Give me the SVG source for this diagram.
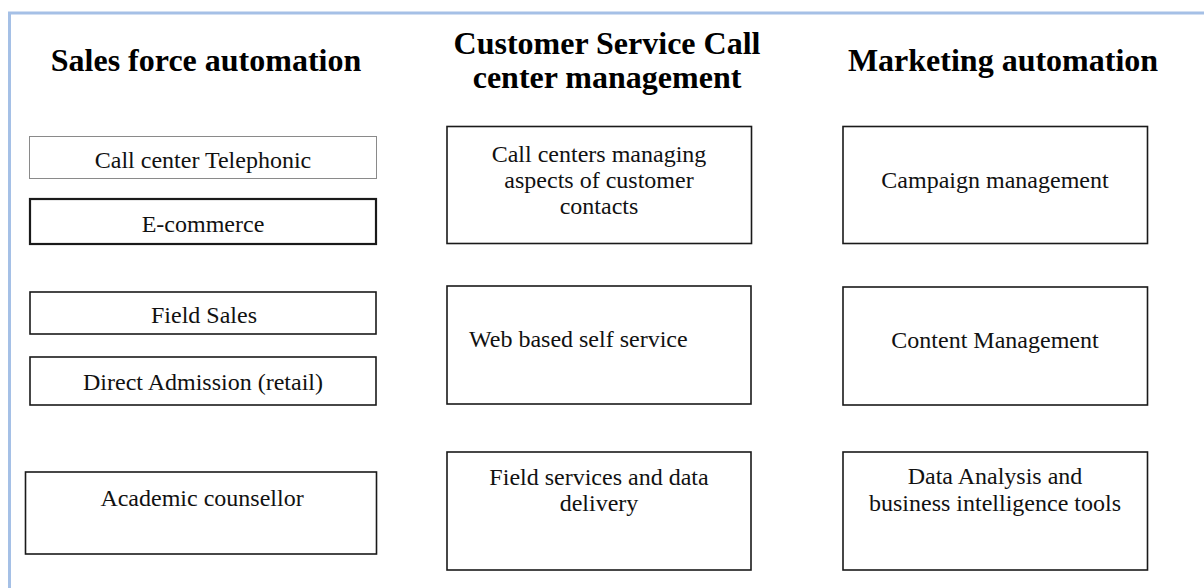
<svg xmlns="http://www.w3.org/2000/svg" width="1204" height="588" viewBox="0 0 1204 588">
<style>
.bg{fill:#ffffff}
.frame{fill:none;stroke:#a5c0e6;stroke-width:3}
.box{fill:#ffffff;stroke:#1a1a1a;stroke-width:1.6}
.thin{fill:#ffffff;stroke:#8a8a8a;stroke-width:1}
.thick{fill:#ffffff;stroke:#1a1a1a;stroke-width:2.2}
.h{font-family:"Liberation Serif","Times New Roman",serif;font-weight:bold;font-size:32px;fill:#000;text-anchor:middle}
.t{font-family:"Liberation Serif","Times New Roman",serif;font-size:24px;fill:#111;text-anchor:middle}
</style>
<rect class="bg" x="0" y="0" width="1204" height="588"/>
<path class="frame" d="M9.5 588 V13 H1204"/>
<g id="headings">
<text class="h" x="206" y="71">Sales force automation</text>
<text class="h" x="607" y="54">Customer Service Call</text>
<text class="h" x="607" y="88">center management</text>
<text class="h" x="1003" y="71">Marketing automation</text>
</g>
<g id="connectors"></g>
<g id="n-call-center-telephonic">
<rect class="thin" x="29.5" y="136.5" width="347" height="42"/>
<text class="t" x="203" y="168">Call center Telephonic</text>
</g>
<g id="n-ecommerce">
<rect class="thick" x="30" y="199" width="346" height="45"/>
<text class="t" x="203" y="232">E-commerce</text>
</g>
<g id="n-field-sales">
<rect class="box" x="30" y="292" width="346" height="42"/>
<text class="t" x="204" y="323">Field Sales</text>
</g>
<g id="n-direct-admission">
<rect class="box" x="30" y="357" width="346" height="48"/>
<text class="t" x="203" y="390">Direct Admission (retail)</text>
</g>
<g id="n-academic-counsellor">
<rect class="box" x="25.5" y="472" width="351" height="82"/>
<text class="t" x="202" y="506">Academic counsellor</text>
</g>
<g id="n-call-centers-managing">
<rect class="box" x="447" y="126.5" width="304.5" height="117"/>
<text class="t" x="599" y="162">Call centers managing</text>
<text class="t" x="599" y="188">aspects of customer</text>
<text class="t" x="599" y="214">contacts</text>
</g>
<g id="n-web-self-service">
<rect class="box" x="447" y="286" width="304" height="118"/>
<text class="t" x="469" y="347" style="text-anchor:start">Web based self service</text>
</g>
<g id="n-field-services">
<rect class="box" x="447" y="452" width="304" height="118"/>
<text class="t" x="599" y="485">Field services and data</text>
<text class="t" x="599" y="511">delivery</text>
</g>
<g id="n-campaign-management">
<rect class="box" x="843" y="126.5" width="304.5" height="117"/>
<text class="t" x="995" y="188">Campaign management</text>
</g>
<g id="n-content-management">
<rect class="box" x="843" y="287" width="304.5" height="118"/>
<text class="t" x="995" y="348">Content Management</text>
</g>
<g id="n-data-analysis">
<rect class="box" x="843" y="452" width="304.5" height="118"/>
<text class="t" x="995" y="484">Data Analysis and</text>
<text class="t" x="995" y="511">business intelligence tools</text>
</g>
</svg>
